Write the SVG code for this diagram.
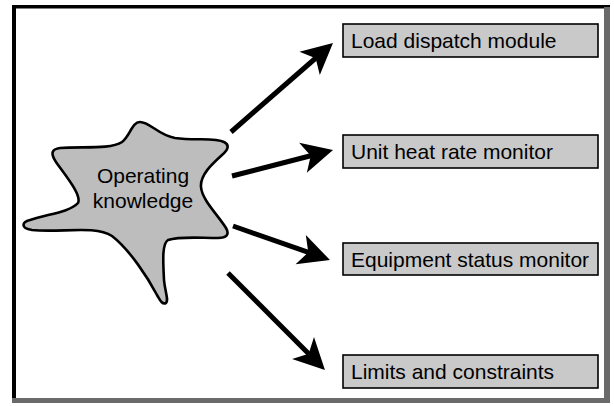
<svg xmlns="http://www.w3.org/2000/svg" width="614" height="406" viewBox="0 0 614 406">
<style>
.box{fill:#c9c9c9;stroke:#000;stroke-width:1.6}
.lbl{font-family:"Liberation Sans",Arial,sans-serif;font-size:21px;fill:#000}
.arr{stroke:#000;stroke-width:5;fill:none;marker-end:url(#head)}
</style>
<defs>
<marker id="head" markerUnits="userSpaceOnUse" markerWidth="50" markerHeight="50" viewBox="-15 -25 50 50" refX="0" refY="0" orient="auto" overflow="visible">
<path d="M22,0 L-9,-15.5 L-1,0 L-9,15.5 Z" fill="#000"/>
</marker>
</defs>
<rect width="614" height="406" fill="#fff"/>
<g id="frame">
<rect x="12" y="5" width="598" height="3.5" fill="#000"/>
<rect x="12" y="5" width="4" height="398" fill="#000"/>
<rect x="604" y="7" width="6" height="396" fill="#6a6a6a"/>
<rect x="12" y="398" width="598" height="5" fill="#6a6a6a"/>
</g>
<g id="knowledge">
<path d="M140,122 C150,122 158,135 175,138 C195,141 215,137 224,142 C230,145 228,150 222,155 C212,164 200,175 201,187 C202,200 218,215 226,228 C230,235 226,238 218,238 C200,238 180,236 168,240 C162,244 163,260 164,280 C165,292 169,300 166,303 C162,305 160,300 157,295 C148,278 130,250 112,236 C95,225 60,233 32,230 C20,228 22,222 30,220 C48,214 70,212 78,203 C82,195 65,175 56,162 C50,153 52,149 60,148 C80,146 110,150 122,142 C130,136 132,122 140,122 Z" fill="#bdbdbd" stroke="#000" stroke-width="2.6"/>
<text class="lbl" x="143" y="183" text-anchor="middle">Operating</text>
<text class="lbl" x="143" y="208" text-anchor="middle">knowledge</text>
</g>
<g id="load-dispatch">
<rect class="box" x="343" y="24" width="255" height="33"/>
<text class="lbl" x="351" y="48">Load dispatch module</text>
</g>
<g id="heat-rate">
<rect class="box" x="343" y="135" width="255" height="33"/>
<text class="lbl" x="351" y="159">Unit heat rate monitor</text>
</g>
<g id="equipment-status">
<rect class="box" x="343" y="243" width="255" height="32"/>
<text class="lbl" x="351" y="267">Equipment status monitor</text>
</g>
<g id="limits">
<rect class="box" x="343" y="355" width="255" height="33"/>
<text class="lbl" x="351" y="379">Limits and constraints</text>
</g>
<g id="connectors">
<line class="arr" x1="231" y1="132" x2="316.4" y2="57.5"/>
<line class="arr" x1="232" y1="176" x2="311.7" y2="155.5"/>
<line class="arr" x1="233" y1="226" x2="309.2" y2="252.7"/>
<line class="arr" x1="228" y1="273" x2="309.4" y2="354.4"/>
</g>
</svg>
